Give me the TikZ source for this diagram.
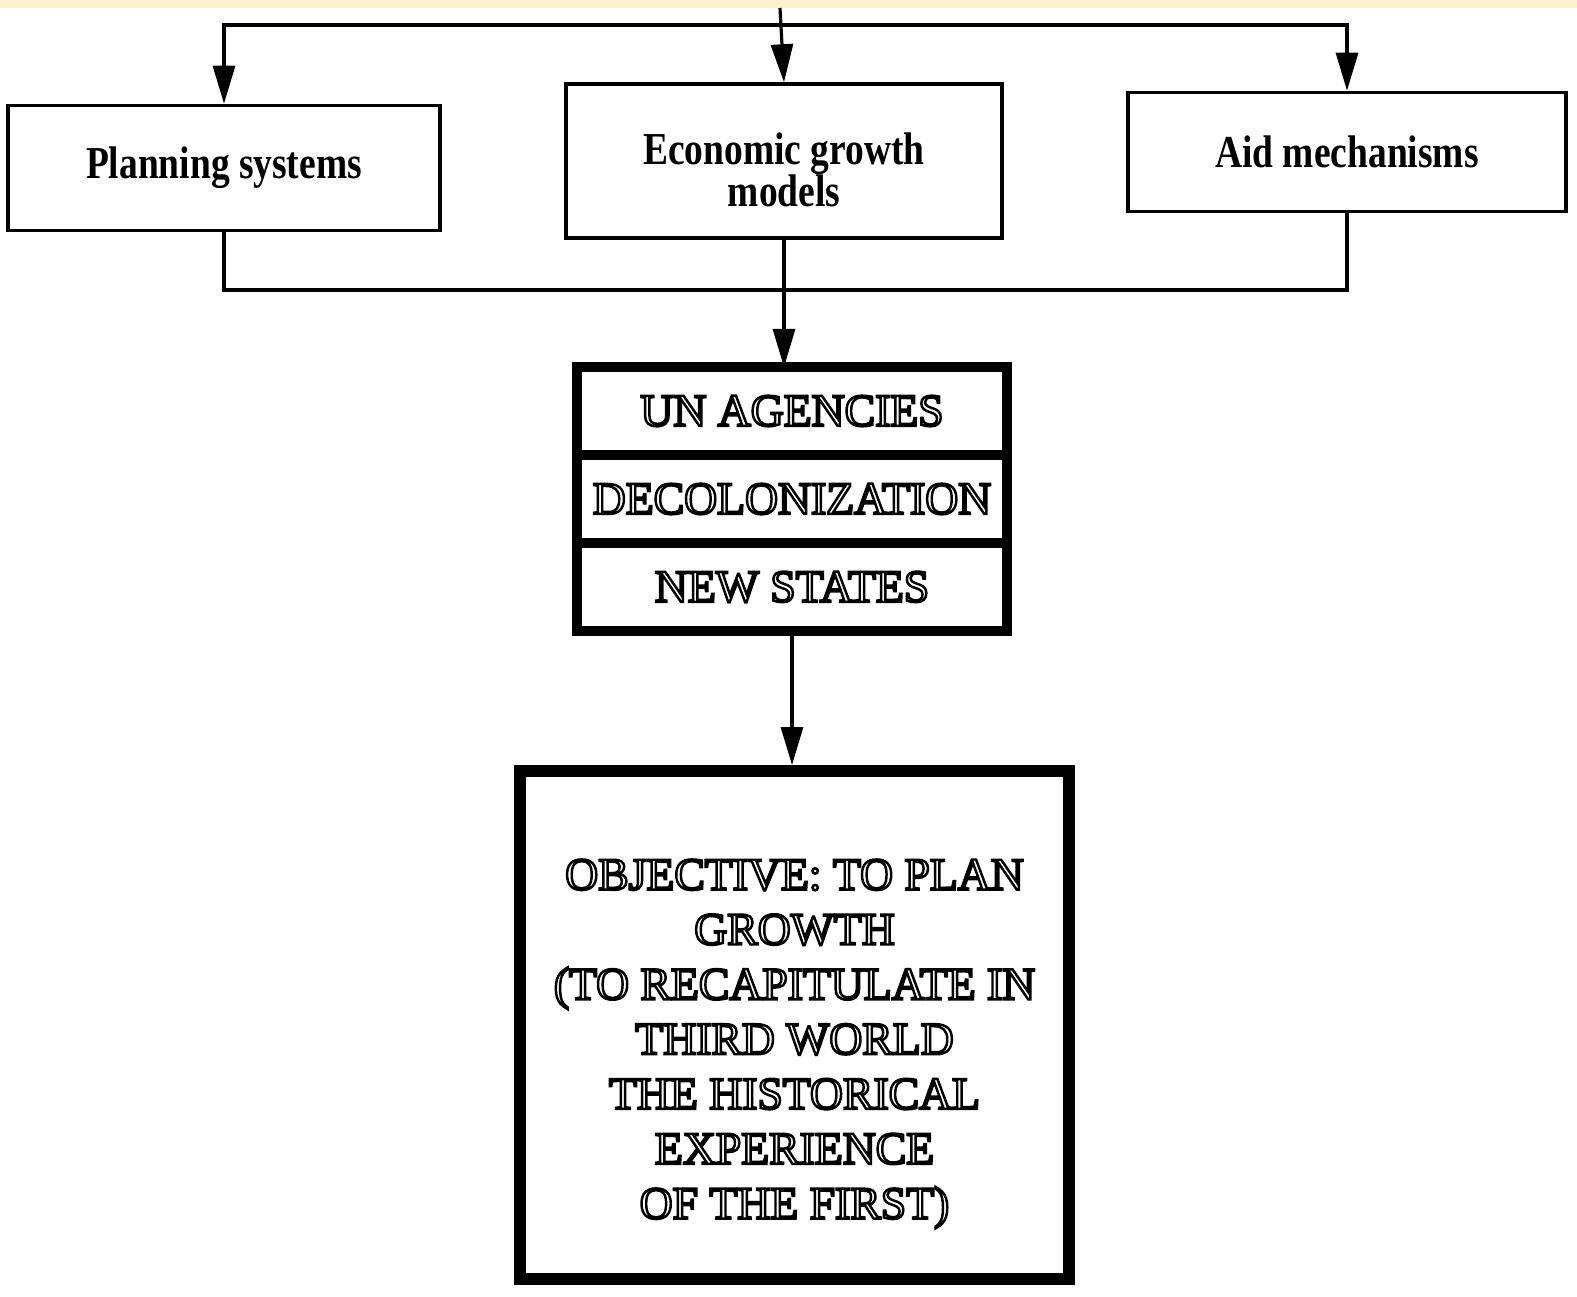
\documentclass[tikz,border=0pt]{standalone}
\usepackage{fontspec}
\setmainfont{Liberation Serif}
\newfontfamily\labelfont[FakeStretch=0.82]{Liberation Serif Bold}
\newfontfamily\capsfont{Liberation Serif}
\newcommand{\engrave}[1]{\special{pdf:literal 1 Tr 0.7 w}#1\special{pdf:literal 0 Tr}}
\usetikzlibrary{arrows.meta,positioning}
\definecolor{strip}{RGB}{253,241,204}

\begin{document}
\begin{tikzpicture}[
  tbox/.style={draw,line width=1pt,inner sep=0pt,align=center,
    font=\labelfont\fontsize{13}{12}\selectfont},
  cell/.style={draw,line width=3pt,outer sep=0pt,inner sep=0pt,
    minimum width=4.30cm,minimum height=0.88cm,
    font=\capsfont\fontsize{13}{15.6}\selectfont},
  goalbox/.style={draw,line width=3.4pt,inner sep=0pt,align=center,
    minimum width=5.49cm,minimum height=5.08cm,
    font=\capsfont\fontsize{13}{15.6}\selectfont},
  link/.style={line width=0.9pt},
  flow/.style={link,-{Triangle[length=3.8mm,width=2.2mm]}}
]
\useasboundingbox (0,0) rectangle (15.77,-12.97);
\fill[strip] (0,0) rectangle (15.77,-0.08);

\node[tbox,minimum width=4.32cm,minimum height=1.25cm] (plan) at (2.24,-1.68) {Planning systems};
\node[tbox,minimum width=4.36cm,minimum height=1.54cm] (econ) at (7.84,-1.61) {\rule{0pt}{0.5cm}Economic growth\\models};
\node[tbox,minimum width=4.38cm,minimum height=1.19cm] (aid) at (13.47,-1.52) {Aid mechanisms};

\node[cell] (un) at (7.92,-4.11) {\engrave{UN AGENCIES}};
\node[cell,below=0pt of un] (decol) {\engrave{DECOLONIZATION}};
\node[cell,below=0pt of decol] (states) {\engrave{NEW STATES}};

\node[goalbox] (goal) at (7.945,-10.25) {\rule{0pt}{0.68cm}\engrave{OBJECTIVE: TO PLAN}\\\engrave{GROWTH}\\
  \engrave{(TO RECAPITULATE IN}\\\engrave{THIRD WORLD}\\\engrave{THE HISTORICAL}\\
  \engrave{EXPERIENCE}\\\engrave{OF THE FIRST)}};

\coordinate (top) at (7.80,-0.08);
\coordinate (split) at (7.80,-0.25);
\coordinate (join) at (7.80,-2.90);

\draw[flow] (top) -- (econ.north);
\draw[flow] (split) -| (plan.north);
\draw[flow] (split) -| (aid.north);
\draw[link] (plan.south) |- (join) -| (aid.south);
\draw[flow] (econ.south) -- (un.north -| econ.south);
\draw[flow] (states.south) -- (goal.north -| states.south);
\end{tikzpicture}
\end{document}
